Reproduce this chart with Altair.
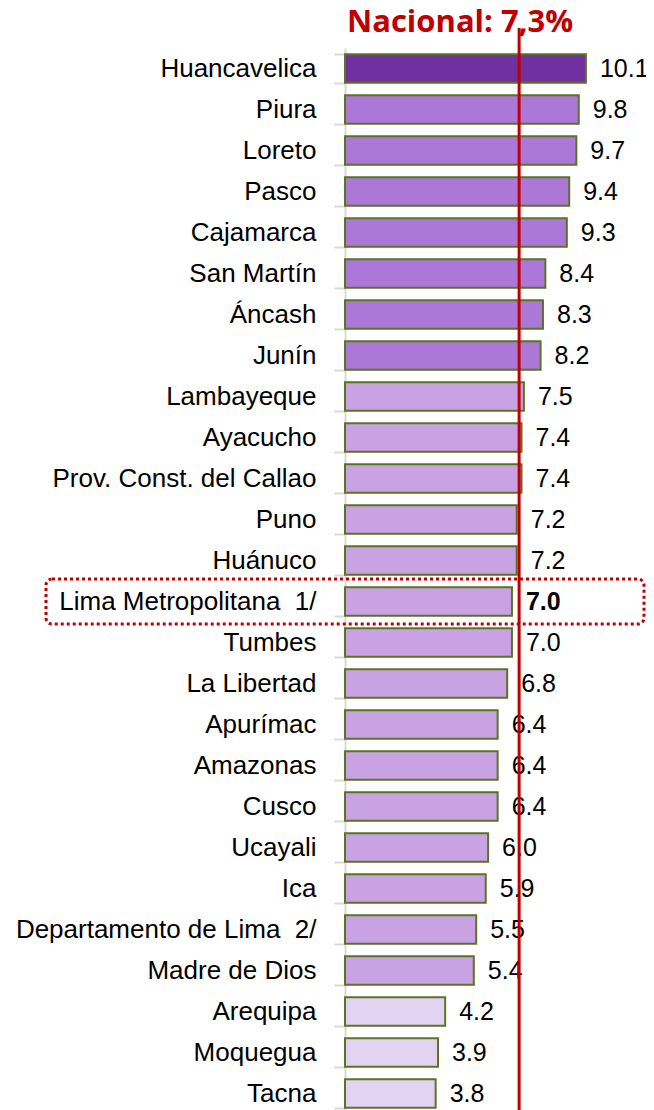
import altair as alt
import pandas as pd

regions = ["Huancavelica", "Piura", "Loreto", "Pasco", "Cajamarca", "San Martín",
           "Áncash", "Junín", "Lambayeque", "Ayacucho", "Prov. Const. del Callao",
           "Puno", "Huánuco", "Lima Metropolitana \u00a01/", "Tumbes", "La Libertad",
           "Apurímac", "Amazonas", "Cusco", "Ucayali", "Ica",
           "Departamento de Lima \u00a02/", "Madre de Dios", "Arequipa", "Moquegua", "Tacna"]
values = [10.1, 9.8, 9.7, 9.4, 9.3, 8.4, 8.3, 8.2, 7.5, 7.4, 7.4, 7.2, 7.2, 7.0,
          7.0, 6.8, 6.4, 6.4, 6.4, 6.0, 5.9, 5.5, 5.4, 4.2, 3.9, 3.8]
groups = ["g0"] + ["g1"] * 7 + ["g2"] * 15 + ["g3"] * 3
highlight = "Lima Metropolitana \u00a01/"
national = 7.3
title_text = "Nacional: 7,3%"

df = pd.DataFrame({"region": regions, "value": values, "group": groups})

W, H = 291, 1062      # visible plot area
BAND_RANGE = 1066     # band scale runs slightly past the bottom edge (cut off as in original)
LABEL_FONT = "Liberation Sans, Arial"

y = alt.Y("region:N", sort=regions,
          scale=alt.Scale(paddingInner=0.3, paddingOuter=0.15, range=[0, BAND_RANGE]),
          axis=alt.Axis(title=None, tickBand="extent", tickSize=11, tickColor="#D9D9D9",
                        tickWidth=2, domainColor="#D9D9D9", domainWidth=2,
                        labelFont=LABEL_FONT, labelFontSize=26, labelColor="#000000",
                        labelPadding=18, labelLimit=400))
x = alt.X("value:Q", scale=alt.Scale(domain=[0, 12.2], nice=False), axis=None)

base = alt.Chart(df)

bars = base.mark_bar(stroke="#5A7424", strokeWidth=2).encode(
    y=y, x=x,
    color=alt.Color("group:N", legend=None,
                    scale=alt.Scale(domain=["g0", "g1", "g2", "g3"],
                                    range=["#7030A0", "#AB78D8", "#C8A2E2", "#E2D3F2"])))

labels = base.mark_text(align="left", baseline="middle", dx=14, font=LABEL_FONT,
                        fontSize=25, color="#000000").encode(
    y=alt.Y("region:N", sort=regions), x="value:Q",
    text=alt.Text("value:Q", format=".1f")).transform_filter(
    alt.datum.region != highlight)

labels_bold = base.mark_text(align="left", baseline="middle", dx=14, font=LABEL_FONT,
                             fontSize=25, fontWeight="bold", color="#000000").encode(
    y=alt.Y("region:N", sort=regions), x="value:Q",
    text=alt.Text("value:Q", format=".1f")).transform_filter(
    alt.datum.region == highlight)

box = base.mark_rect(fill=None, stroke="#C00000", strokeWidth=3, strokeDash=[3, 3],
                     cornerRadius=6, height=45).encode(
    y=alt.Y("region:N", sort=regions),
    x=alt.value(-299), x2=alt.value(299)).transform_filter(
    alt.datum.region == highlight)

nat_df = pd.DataFrame({"v": [national], "label": [title_text]})

rule = alt.Chart(nat_df).mark_rule(color="#C00000", strokeWidth=3).encode(
    x=alt.X("v:Q"), y=alt.value(-20), y2=alt.value(BAND_RANGE))

title = alt.Chart(nat_df).mark_text(align="left", baseline="alphabetic", dx=2,
                                    font="Open Sans", fontSize=31, fontWeight="bold",
                                    color="#C00000").encode(
    x=alt.datum(0), y=alt.value(-16), text="label:N")

chart = alt.layer(bars, labels, labels_bold, box, title, rule).properties(
    width=W, height=H,
    autosize=alt.AutoSizeParams(type="none"),
    padding={"left": 337, "top": 40, "right": 10, "bottom": 0},
).configure_view(stroke=None)

chart.save("out.html", embed_options={"renderer": "svg", "actions": False})
